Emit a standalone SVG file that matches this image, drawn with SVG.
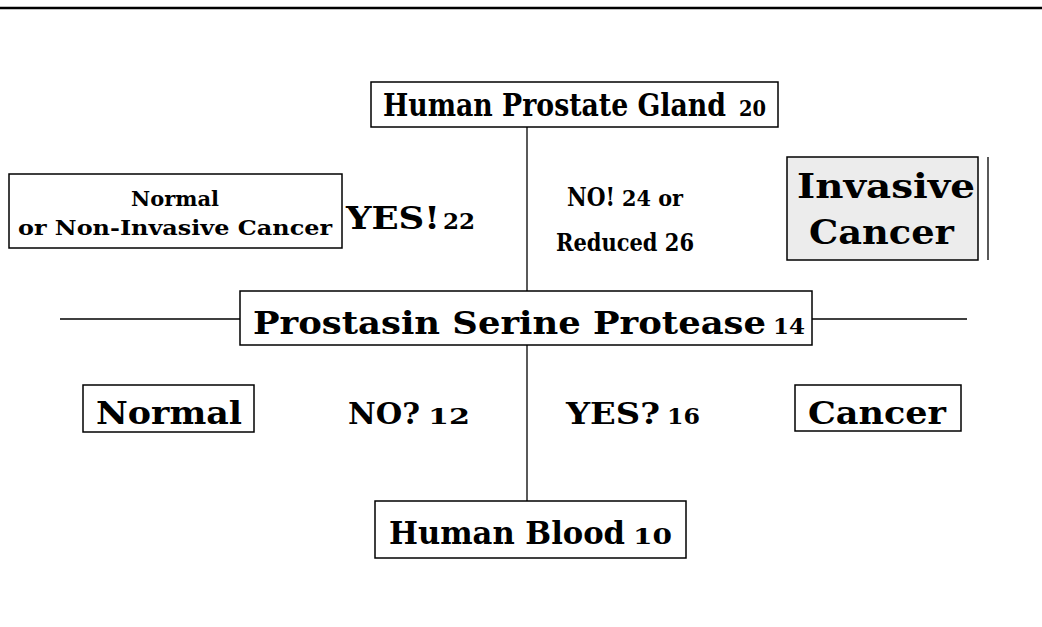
<svg xmlns="http://www.w3.org/2000/svg" width="1042" height="627" viewBox="0 0 1042 627">
<style>
  .box { fill: #ffffff; stroke: #000000; stroke-width: 1.5; }
  .shade { fill: #ececec; stroke: #000000; stroke-width: 1.5; }
  .ln { stroke: #000000; stroke-width: 1.3; fill: none; }
  .t { font-family: "DejaVu Serif Condensed", "DejaVu Serif", "Liberation Serif", serif; font-stretch: condensed; font-weight: bold; fill: #000000; }
</style>
<rect width="1042" height="627" fill="#ffffff"/>
<g id="header">
  <line x1="0" y1="8" x2="1042" y2="8" stroke="#000" stroke-width="2.5"/>
</g>
<g id="connectors">
  <line class="ln" x1="527" y1="127" x2="527" y2="292"/>
  <line class="ln" x1="527" y1="345" x2="527" y2="501"/>
  <line class="ln" x1="60" y1="319" x2="240" y2="319"/>
  <line class="ln" x1="812" y1="319" x2="967" y2="319"/>
</g>
<g id="prostate-gland">
  <rect class="box" x="371" y="82" width="407" height="45"/>
  <text class="t" x="383" y="116" font-size="31" textLength="343" lengthAdjust="spacingAndGlyphs">Human Prostate Gland</text>
  <text class="t" x="739" y="116" font-size="23" textLength="27" lengthAdjust="spacingAndGlyphs">20</text>
</g>
<g id="normal-noninvasive">
  <rect class="box" x="9" y="174" width="333" height="74"/>
  <text class="t" x="175" y="206" font-size="21" text-anchor="middle" textLength="88" lengthAdjust="spacingAndGlyphs">Normal</text>
  <text class="t" x="175" y="235" font-size="21" text-anchor="middle" textLength="314" lengthAdjust="spacingAndGlyphs">or Non-Invasive Cancer</text>
</g>
<g id="yes22">
  <text class="t" x="346" y="229" font-size="31" textLength="94" lengthAdjust="spacingAndGlyphs">YES!</text>
  <text class="t" x="443" y="229" font-size="23" textLength="32" lengthAdjust="spacingAndGlyphs">22</text>
</g>
<g id="no24">
  <text class="t" x="567" y="206" font-size="26" textLength="48" lengthAdjust="spacingAndGlyphs">NO!</text>
  <text class="t" x="622" y="206" font-size="23" textLength="61" lengthAdjust="spacingAndGlyphs">24 or</text>
  <text class="t" x="556" y="251" font-size="24" textLength="138" lengthAdjust="spacingAndGlyphs">Reduced 26</text>
</g>
<g id="invasive-cancer">
  <rect class="shade" x="787" y="157" width="191" height="103"/>
  <line class="ln" x1="988" y1="157" x2="988" y2="260"/>
  <text class="t" x="797" y="198" font-size="33" textLength="178" lengthAdjust="spacingAndGlyphs">Invasive</text>
  <text class="t" x="809" y="244" font-size="33" textLength="145" lengthAdjust="spacingAndGlyphs">Cancer</text>
</g>
<g id="prostasin">
  <rect class="box" x="240" y="291" width="572" height="54"/>
  <text class="t" x="253" y="334" font-size="32" textLength="513" lengthAdjust="spacingAndGlyphs">Prostasin Serine Protease</text>
  <text class="t" x="773" y="334" font-size="23" textLength="32" lengthAdjust="spacingAndGlyphs">14</text>
</g>
<g id="normal">
  <rect class="box" x="83" y="385" width="171" height="47"/>
  <text class="t" x="96" y="424" font-size="32" textLength="146" lengthAdjust="spacingAndGlyphs">Normal</text>
</g>
<g id="no12">
  <text class="t" x="348" y="424" font-size="30" textLength="72" lengthAdjust="spacingAndGlyphs">NO?</text>
  <text class="t" x="428" y="424" font-size="23" textLength="42" lengthAdjust="spacingAndGlyphs">12</text>
</g>
<g id="yes16">
  <text class="t" x="566" y="424" font-size="30" textLength="94" lengthAdjust="spacingAndGlyphs">YES?</text>
  <text class="t" x="667" y="424" font-size="23" textLength="33" lengthAdjust="spacingAndGlyphs">16</text>
</g>
<g id="cancer">
  <rect class="box" x="795" y="385" width="166" height="46"/>
  <text class="t" x="808" y="424" font-size="32" textLength="138" lengthAdjust="spacingAndGlyphs">Cancer</text>
</g>
<g id="human-blood">
  <rect class="box" x="375" y="501" width="311" height="57"/>
  <text class="t" x="389" y="544" font-size="32" textLength="236" lengthAdjust="spacingAndGlyphs">Human Blood</text>
  <text class="t" x="633" y="544" font-size="23" textLength="39" lengthAdjust="spacingAndGlyphs">10</text>
</g>
</svg>
